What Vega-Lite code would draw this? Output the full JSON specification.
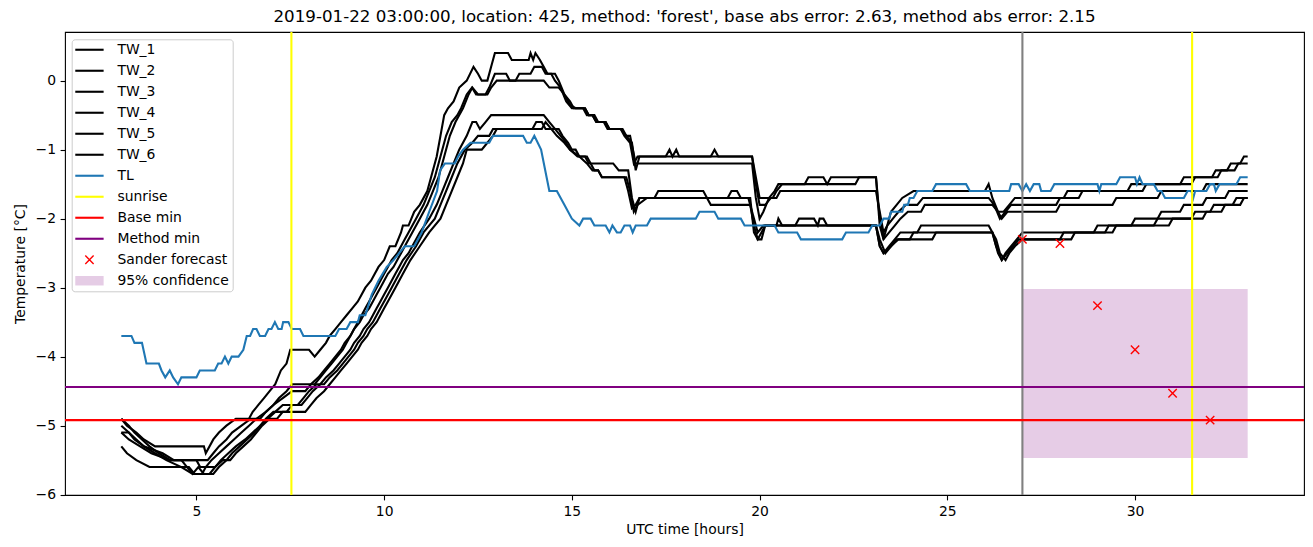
{
"$schema": "https://vega.github.io/schema/vega-lite/v6.json",
"width": 1239, "height": 463,
"autosize": "none",
"padding": {"left": 65, "top": 32, "right": 9, "bottom": 52},
"background": "white",
"title": {"text": "2019-01-22 03:00:00, location: 425, method: 'forest', base abs error: 2.63, method abs error: 2.15", "fontSize": 16.7, "font": "DejaVu Sans", "fontWeight": "normal", "color": "black", "anchor": "middle", "offset": 5},
"config": {
  "view": {"stroke": "black", "strokeWidth": 1.1},
  "font": "DejaVu Sans",
  "axis": {"domain": false, "grid": false, "tickColor": "black", "tickWidth": 1.1, "tickSize": 4.9, "labelFont": "DejaVu Sans", "labelFontSize": 13.9, "labelColor": "black", "labelPadding": 4.5, "titleFont": "DejaVu Sans", "titleFontSize": 13.9, "titleFontWeight": "normal", "titleColor": "black"}
},
"datasets": {
"series": [
{"s":"TW_1","x":3.0,"y":-4.9},{"s":"TW_1","x":3.15,"y":-5.0},{"s":"TW_1","x":3.4,"y":-5.1},{"s":"TW_1","x":3.6,"y":-5.2},{"s":"TW_1","x":3.9,"y":-5.3},{"s":"TW_1","x":5.2,"y":-5.3},{"s":"TW_1","x":5.25,"y":-5.4},{"s":"TW_1","x":5.45,"y":-5.2},{"s":"TW_1","x":5.6,"y":-5.1},{"s":"TW_1","x":5.8,"y":-5.0},{"s":"TW_1","x":6.05,"y":-4.9},{"s":"TW_1","x":6.4,"y":-4.9},{"s":"TW_1","x":6.5,"y":-4.8},{"s":"TW_1","x":6.65,"y":-4.7},{"s":"TW_1","x":6.8,"y":-4.6},{"s":"TW_1","x":6.95,"y":-4.5},{"s":"TW_1","x":7.1,"y":-4.4},{"s":"TW_1","x":7.25,"y":-4.2},{"s":"TW_1","x":7.4,"y":-4.1},{"s":"TW_1","x":7.5,"y":-3.9},{"s":"TW_1","x":8.0,"y":-3.9},{"s":"TW_1","x":8.15,"y":-4.0},{"s":"TW_1","x":8.3,"y":-3.9},{"s":"TW_1","x":8.45,"y":-3.8},{"s":"TW_1","x":8.55,"y":-3.7},{"s":"TW_1","x":8.7,"y":-3.6},{"s":"TW_1","x":8.85,"y":-3.5},{"s":"TW_1","x":9.0,"y":-3.4},{"s":"TW_1","x":9.15,"y":-3.3},{"s":"TW_1","x":9.3,"y":-3.2},{"s":"TW_1","x":9.5,"y":-3.0},{"s":"TW_1","x":9.65,"y":-2.9},{"s":"TW_1","x":9.85,"y":-2.7},{"s":"TW_1","x":10.0,"y":-2.6},{"s":"TW_1","x":10.15,"y":-2.4},{"s":"TW_1","x":10.3,"y":-2.4},{"s":"TW_1","x":10.45,"y":-2.2},{"s":"TW_1","x":10.5,"y":-2.1},{"s":"TW_1","x":10.65,"y":-2.1},{"s":"TW_1","x":10.8,"y":-1.9},{"s":"TW_1","x":10.95,"y":-1.8},{"s":"TW_1","x":11.15,"y":-1.6},{"s":"TW_1","x":11.25,"y":-1.4},{"s":"TW_1","x":11.4,"y":-1.1},{"s":"TW_1","x":11.5,"y":-0.8},{"s":"TW_1","x":11.6,"y":-0.5},{"s":"TW_1","x":11.7,"y":-0.4},{"s":"TW_1","x":11.85,"y":-0.3},{"s":"TW_1","x":12.0,"y":-0.1},{"s":"TW_1","x":12.2,"y":0.0},{"s":"TW_1","x":12.38,"y":0.2},{"s":"TW_1","x":12.5,"y":0.1},{"s":"TW_1","x":12.6,"y":0.0},{"s":"TW_1","x":12.75,"y":0.0},{"s":"TW_1","x":12.85,"y":0.2},{"s":"TW_1","x":12.95,"y":0.4},{"s":"TW_1","x":13.3,"y":0.4},{"s":"TW_1","x":13.4,"y":0.3},{"s":"TW_1","x":13.85,"y":0.3},{"s":"TW_1","x":13.9,"y":0.4},{"s":"TW_1","x":13.97,"y":0.3},{"s":"TW_1","x":14.03,"y":0.4},{"s":"TW_1","x":14.15,"y":0.3},{"s":"TW_1","x":14.25,"y":0.2},{"s":"TW_1","x":14.35,"y":0.1},{"s":"TW_1","x":14.55,"y":0.1},{"s":"TW_1","x":14.65,"y":0.0},{"s":"TW_1","x":14.8,"y":-0.2},{"s":"TW_1","x":14.95,"y":-0.35},{"s":"TW_1","x":15.1,"y":-0.4},{"s":"TW_1","x":15.35,"y":-0.4},{"s":"TW_1","x":15.45,"y":-0.5},{"s":"TW_1","x":15.55,"y":-0.5},{"s":"TW_1","x":15.65,"y":-0.6},{"s":"TW_1","x":15.9,"y":-0.6},{"s":"TW_1","x":16.0,"y":-0.7},{"s":"TW_1","x":16.3,"y":-0.7},{"s":"TW_1","x":16.45,"y":-0.8},{"s":"TW_1","x":16.6,"y":-0.9},{"s":"TW_1","x":16.7,"y":-1.3},{"s":"TW_1","x":16.8,"y":-1.1},{"s":"TW_1","x":17.5,"y":-1.1},{"s":"TW_1","x":17.6,"y":-1.0},{"s":"TW_1","x":17.68,"y":-1.1},{"s":"TW_1","x":17.78,"y":-1.0},{"s":"TW_1","x":17.86,"y":-1.1},{"s":"TW_1","x":18.7,"y":-1.1},{"s":"TW_1","x":18.8,"y":-1.0},{"s":"TW_1","x":18.9,"y":-1.1},{"s":"TW_1","x":19.8,"y":-1.1},{"s":"TW_1","x":19.9,"y":-1.4},{"s":"TW_1","x":20.0,"y":-1.7},{"s":"TW_1","x":20.35,"y":-1.7},{"s":"TW_1","x":20.45,"y":-1.6},{"s":"TW_1","x":20.6,"y":-1.5},{"s":"TW_1","x":21.2,"y":-1.5},{"s":"TW_1","x":21.3,"y":-1.4},{"s":"TW_1","x":21.7,"y":-1.4},{"s":"TW_1","x":21.8,"y":-1.5},{"s":"TW_1","x":21.9,"y":-1.4},{"s":"TW_1","x":23.1,"y":-1.4},{"s":"TW_1","x":23.2,"y":-2.0},{"s":"TW_1","x":23.3,"y":-2.3},{"s":"TW_1","x":23.4,"y":-2.1},{"s":"TW_1","x":23.5,"y":-1.9},{"s":"TW_1","x":23.65,"y":-1.8},{"s":"TW_1","x":23.8,"y":-1.7},{"s":"TW_1","x":24.1,"y":-1.6},{"s":"TW_1","x":26.0,"y":-1.6},{"s":"TW_1","x":26.1,"y":-1.5},{"s":"TW_1","x":26.2,"y":-1.7},{"s":"TW_1","x":26.35,"y":-1.9},{"s":"TW_1","x":26.5,"y":-1.9},{"s":"TW_1","x":26.65,"y":-1.8},{"s":"TW_1","x":26.8,"y":-1.7},{"s":"TW_1","x":28.1,"y":-1.7},{"s":"TW_1","x":28.2,"y":-1.6},{"s":"TW_1","x":29.8,"y":-1.6},{"s":"TW_1","x":29.9,"y":-1.5},{"s":"TW_1","x":31.2,"y":-1.5},{"s":"TW_1","x":31.3,"y":-1.4},{"s":"TW_1","x":32.05,"y":-1.4},{"s":"TW_1","x":32.15,"y":-1.3},{"s":"TW_1","x":32.45,"y":-1.3},{"s":"TW_1","x":32.55,"y":-1.2},{"s":"TW_1","x":32.8,"y":-1.2},{"s":"TW_1","x":32.9,"y":-1.1},{"s":"TW_1","x":33.0,"y":-1.1},

{"s":"TW_2","x":3.0,"y":-4.9},{"s":"TW_2","x":3.2,"y":-5.0},{"s":"TW_2","x":3.35,"y":-5.1},{"s":"TW_2","x":3.55,"y":-5.2},{"s":"TW_2","x":3.75,"y":-5.3},{"s":"TW_2","x":4.0,"y":-5.4},{"s":"TW_2","x":4.3,"y":-5.5},{"s":"TW_2","x":5.3,"y":-5.5},{"s":"TW_2","x":5.45,"y":-5.4},{"s":"TW_2","x":5.6,"y":-5.3},{"s":"TW_2","x":5.8,"y":-5.2},{"s":"TW_2","x":5.95,"y":-5.1},{"s":"TW_2","x":6.2,"y":-5.0},{"s":"TW_2","x":6.45,"y":-4.9},{"s":"TW_2","x":6.7,"y":-4.9},{"s":"TW_2","x":6.85,"y":-4.8},{"s":"TW_2","x":7.05,"y":-4.7},{"s":"TW_2","x":7.2,"y":-4.6},{"s":"TW_2","x":7.4,"y":-4.5},{"s":"TW_2","x":7.55,"y":-4.4},{"s":"TW_2","x":8.15,"y":-4.4},{"s":"TW_2","x":8.3,"y":-4.3},{"s":"TW_2","x":8.45,"y":-4.2},{"s":"TW_2","x":8.6,"y":-4.1},{"s":"TW_2","x":8.75,"y":-4.0},{"s":"TW_2","x":8.9,"y":-3.9},{"s":"TW_2","x":9.0,"y":-3.8},{"s":"TW_2","x":9.1,"y":-3.7},{"s":"TW_2","x":9.2,"y":-3.6},{"s":"TW_2","x":9.3,"y":-3.5},{"s":"TW_2","x":9.4,"y":-3.4},{"s":"TW_2","x":9.5,"y":-3.3},{"s":"TW_2","x":9.6,"y":-3.2},{"s":"TW_2","x":9.7,"y":-3.1},{"s":"TW_2","x":9.8,"y":-3.0},{"s":"TW_2","x":9.9,"y":-2.9},{"s":"TW_2","x":10.0,"y":-2.8},{"s":"TW_2","x":10.1,"y":-2.7},{"s":"TW_2","x":10.2,"y":-2.6},{"s":"TW_2","x":10.35,"y":-2.5},{"s":"TW_2","x":10.45,"y":-2.4},{"s":"TW_2","x":10.55,"y":-2.3},{"s":"TW_2","x":10.65,"y":-2.2},{"s":"TW_2","x":10.85,"y":-2.0},{"s":"TW_2","x":10.95,"y":-1.9},{"s":"TW_2","x":11.05,"y":-1.8},{"s":"TW_2","x":11.2,"y":-1.6},{"s":"TW_2","x":11.35,"y":-1.4},{"s":"TW_2","x":11.5,"y":-1.1},{"s":"TW_2","x":11.65,"y":-0.8},{"s":"TW_2","x":11.8,"y":-0.6},{"s":"TW_2","x":11.95,"y":-0.5},{"s":"TW_2","x":12.05,"y":-0.4},{"s":"TW_2","x":12.2,"y":-0.2},{"s":"TW_2","x":12.34,"y":-0.1},{"s":"TW_2","x":12.45,"y":-0.2},{"s":"TW_2","x":12.7,"y":-0.2},{"s":"TW_2","x":12.8,"y":-0.1},{"s":"TW_2","x":12.95,"y":0.1},{"s":"TW_2","x":13.25,"y":0.1},{"s":"TW_2","x":13.35,"y":0.0},{"s":"TW_2","x":13.5,"y":0.0},{"s":"TW_2","x":13.6,"y":0.1},{"s":"TW_2","x":13.9,"y":0.1},{"s":"TW_2","x":14.0,"y":0.2},{"s":"TW_2","x":14.2,"y":0.2},{"s":"TW_2","x":14.3,"y":0.1},{"s":"TW_2","x":14.45,"y":0.1},{"s":"TW_2","x":14.55,"y":0.0},{"s":"TW_2","x":14.7,"y":-0.1},{"s":"TW_2","x":14.85,"y":-0.3},{"s":"TW_2","x":15.0,"y":-0.4},{"s":"TW_2","x":15.3,"y":-0.4},{"s":"TW_2","x":15.4,"y":-0.5},{"s":"TW_2","x":15.55,"y":-0.5},{"s":"TW_2","x":15.65,"y":-0.6},{"s":"TW_2","x":15.85,"y":-0.6},{"s":"TW_2","x":15.95,"y":-0.7},{"s":"TW_2","x":16.3,"y":-0.7},{"s":"TW_2","x":16.4,"y":-0.8},{"s":"TW_2","x":16.55,"y":-0.9},{"s":"TW_2","x":16.65,"y":-1.2},{"s":"TW_2","x":16.75,"y":-1.1},{"s":"TW_2","x":19.8,"y":-1.1},{"s":"TW_2","x":19.9,"y":-1.5},{"s":"TW_2","x":20.0,"y":-1.8},{"s":"TW_2","x":20.15,"y":-1.8},{"s":"TW_2","x":20.3,"y":-1.7},{"s":"TW_2","x":20.45,"y":-1.7},{"s":"TW_2","x":20.55,"y":-1.6},{"s":"TW_2","x":23.1,"y":-1.6},{"s":"TW_2","x":23.2,"y":-1.9},{"s":"TW_2","x":23.3,"y":-2.2},{"s":"TW_2","x":23.4,"y":-2.1},{"s":"TW_2","x":23.55,"y":-2.0},{"s":"TW_2","x":23.7,"y":-1.9},{"s":"TW_2","x":23.9,"y":-1.8},{"s":"TW_2","x":24.2,"y":-1.8},{"s":"TW_2","x":24.35,"y":-1.7},{"s":"TW_2","x":26.1,"y":-1.7},{"s":"TW_2","x":26.25,"y":-1.8},{"s":"TW_2","x":26.4,"y":-2.0},{"s":"TW_2","x":26.55,"y":-1.9},{"s":"TW_2","x":26.7,"y":-1.8},{"s":"TW_2","x":27.9,"y":-1.8},{"s":"TW_2","x":28.0,"y":-1.7},{"s":"TW_2","x":28.5,"y":-1.7},{"s":"TW_2","x":28.6,"y":-1.6},{"s":"TW_2","x":30.2,"y":-1.6},{"s":"TW_2","x":30.3,"y":-1.5},{"s":"TW_2","x":31.5,"y":-1.5},{"s":"TW_2","x":31.6,"y":-1.4},{"s":"TW_2","x":32.2,"y":-1.4},{"s":"TW_2","x":32.3,"y":-1.3},{"s":"TW_2","x":32.65,"y":-1.3},{"s":"TW_2","x":32.75,"y":-1.2},{"s":"TW_2","x":33.0,"y":-1.2},

{"s":"TW_3","x":3.0,"y":-5.0},{"s":"TW_3","x":3.2,"y":-5.1},{"s":"TW_3","x":3.4,"y":-5.2},{"s":"TW_3","x":3.6,"y":-5.3},{"s":"TW_3","x":3.9,"y":-5.4},{"s":"TW_3","x":4.2,"y":-5.5},{"s":"TW_3","x":4.6,"y":-5.6},{"s":"TW_3","x":4.9,"y":-5.7},{"s":"TW_3","x":5.15,"y":-5.7},{"s":"TW_3","x":5.25,"y":-5.6},{"s":"TW_3","x":5.4,"y":-5.5},{"s":"TW_3","x":5.6,"y":-5.4},{"s":"TW_3","x":5.8,"y":-5.3},{"s":"TW_3","x":6.0,"y":-5.2},{"s":"TW_3","x":6.2,"y":-5.1},{"s":"TW_3","x":6.4,"y":-5.0},{"s":"TW_3","x":6.6,"y":-4.9},{"s":"TW_3","x":6.85,"y":-4.8},{"s":"TW_3","x":7.05,"y":-4.7},{"s":"TW_3","x":7.3,"y":-4.6},{"s":"TW_3","x":7.55,"y":-4.5},{"s":"TW_3","x":7.9,"y":-4.5},{"s":"TW_3","x":8.05,"y":-4.4},{"s":"TW_3","x":8.25,"y":-4.3},{"s":"TW_3","x":8.4,"y":-4.2},{"s":"TW_3","x":8.55,"y":-4.1},{"s":"TW_3","x":8.7,"y":-4.0},{"s":"TW_3","x":8.85,"y":-3.9},{"s":"TW_3","x":8.95,"y":-3.8},{"s":"TW_3","x":9.1,"y":-3.7},{"s":"TW_3","x":9.2,"y":-3.6},{"s":"TW_3","x":9.35,"y":-3.5},{"s":"TW_3","x":9.45,"y":-3.4},{"s":"TW_3","x":9.6,"y":-3.3},{"s":"TW_3","x":9.7,"y":-3.2},{"s":"TW_3","x":9.8,"y":-3.1},{"s":"TW_3","x":9.9,"y":-3.0},{"s":"TW_3","x":10.0,"y":-2.9},{"s":"TW_3","x":10.1,"y":-2.8},{"s":"TW_3","x":10.25,"y":-2.7},{"s":"TW_3","x":10.35,"y":-2.6},{"s":"TW_3","x":10.45,"y":-2.5},{"s":"TW_3","x":10.55,"y":-2.4},{"s":"TW_3","x":10.75,"y":-2.2},{"s":"TW_3","x":10.95,"y":-2.0},{"s":"TW_3","x":11.05,"y":-1.9},{"s":"TW_3","x":11.15,"y":-1.8},{"s":"TW_3","x":11.3,"y":-1.6},{"s":"TW_3","x":11.45,"y":-1.4},{"s":"TW_3","x":11.6,"y":-1.1},{"s":"TW_3","x":11.75,"y":-0.8},{"s":"TW_3","x":11.9,"y":-0.6},{"s":"TW_3","x":12.1,"y":-0.4},{"s":"TW_3","x":12.25,"y":-0.2},{"s":"TW_3","x":12.35,"y":-0.1},{"s":"TW_3","x":12.5,"y":-0.2},{"s":"TW_3","x":12.75,"y":-0.2},{"s":"TW_3","x":12.85,"y":-0.1},{"s":"TW_3","x":13.0,"y":0.0},{"s":"TW_3","x":14.25,"y":0.0},{"s":"TW_3","x":14.4,"y":-0.1},{"s":"TW_3","x":14.65,"y":-0.1},{"s":"TW_3","x":14.8,"y":-0.2},{"s":"TW_3","x":14.95,"y":-0.3},{"s":"TW_3","x":15.05,"y":-0.4},{"s":"TW_3","x":15.35,"y":-0.4},{"s":"TW_3","x":15.45,"y":-0.5},{"s":"TW_3","x":15.6,"y":-0.5},{"s":"TW_3","x":15.7,"y":-0.6},{"s":"TW_3","x":15.9,"y":-0.6},{"s":"TW_3","x":16.0,"y":-0.7},{"s":"TW_3","x":16.35,"y":-0.7},{"s":"TW_3","x":16.45,"y":-0.8},{"s":"TW_3","x":16.55,"y":-0.8},{"s":"TW_3","x":16.7,"y":-1.2},{"s":"TW_3","x":19.8,"y":-1.2},{"s":"TW_3","x":19.9,"y":-1.7},{"s":"TW_3","x":20.0,"y":-2.0},{"s":"TW_3","x":20.1,"y":-1.9},{"s":"TW_3","x":20.25,"y":-1.7},{"s":"TW_3","x":20.4,"y":-1.6},{"s":"TW_3","x":20.5,"y":-1.5},{"s":"TW_3","x":22.55,"y":-1.5},{"s":"TW_3","x":22.65,"y":-1.4},{"s":"TW_3","x":23.1,"y":-1.4},{"s":"TW_3","x":23.2,"y":-2.1},{"s":"TW_3","x":23.3,"y":-2.3},{"s":"TW_3","x":23.45,"y":-2.2},{"s":"TW_3","x":23.6,"y":-2.1},{"s":"TW_3","x":23.75,"y":-2.0},{"s":"TW_3","x":23.95,"y":-1.9},{"s":"TW_3","x":24.3,"y":-1.9},{"s":"TW_3","x":24.4,"y":-1.8},{"s":"TW_3","x":26.2,"y":-1.8},{"s":"TW_3","x":26.35,"y":-1.9},{"s":"TW_3","x":26.45,"y":-2.0},{"s":"TW_3","x":26.6,"y":-1.9},{"s":"TW_3","x":27.9,"y":-1.9},{"s":"TW_3","x":28.0,"y":-1.8},{"s":"TW_3","x":29.4,"y":-1.8},{"s":"TW_3","x":29.5,"y":-1.7},{"s":"TW_3","x":30.6,"y":-1.7},{"s":"TW_3","x":30.7,"y":-1.6},{"s":"TW_3","x":31.8,"y":-1.6},{"s":"TW_3","x":31.9,"y":-1.5},{"s":"TW_3","x":33.0,"y":-1.5},

{"s":"TW_4","x":3.0,"y":-5.1},{"s":"TW_4","x":3.2,"y":-5.2},{"s":"TW_4","x":3.5,"y":-5.3},{"s":"TW_4","x":3.8,"y":-5.4},{"s":"TW_4","x":4.3,"y":-5.5},{"s":"TW_4","x":4.6,"y":-5.5},{"s":"TW_4","x":4.75,"y":-5.6},{"s":"TW_4","x":4.9,"y":-5.7},{"s":"TW_4","x":5.05,"y":-5.6},{"s":"TW_4","x":5.2,"y":-5.7},{"s":"TW_4","x":5.45,"y":-5.7},{"s":"TW_4","x":5.6,"y":-5.6},{"s":"TW_4","x":5.8,"y":-5.5},{"s":"TW_4","x":5.95,"y":-5.4},{"s":"TW_4","x":6.15,"y":-5.3},{"s":"TW_4","x":6.35,"y":-5.2},{"s":"TW_4","x":6.55,"y":-5.1},{"s":"TW_4","x":6.7,"y":-5.0},{"s":"TW_4","x":6.85,"y":-4.9},{"s":"TW_4","x":7.05,"y":-4.8},{"s":"TW_4","x":7.4,"y":-4.8},{"s":"TW_4","x":7.55,"y":-4.7},{"s":"TW_4","x":7.8,"y":-4.7},{"s":"TW_4","x":7.95,"y":-4.6},{"s":"TW_4","x":8.1,"y":-4.5},{"s":"TW_4","x":8.3,"y":-4.4},{"s":"TW_4","x":8.45,"y":-4.3},{"s":"TW_4","x":8.65,"y":-4.2},{"s":"TW_4","x":8.8,"y":-4.1},{"s":"TW_4","x":8.95,"y":-4.0},{"s":"TW_4","x":9.1,"y":-3.9},{"s":"TW_4","x":9.2,"y":-3.8},{"s":"TW_4","x":9.35,"y":-3.7},{"s":"TW_4","x":9.45,"y":-3.6},{"s":"TW_4","x":9.6,"y":-3.5},{"s":"TW_4","x":9.7,"y":-3.4},{"s":"TW_4","x":9.8,"y":-3.3},{"s":"TW_4","x":9.9,"y":-3.2},{"s":"TW_4","x":10.0,"y":-3.1},{"s":"TW_4","x":10.1,"y":-3.0},{"s":"TW_4","x":10.2,"y":-2.9},{"s":"TW_4","x":10.3,"y":-2.8},{"s":"TW_4","x":10.4,"y":-2.7},{"s":"TW_4","x":10.5,"y":-2.6},{"s":"TW_4","x":10.65,"y":-2.5},{"s":"TW_4","x":10.75,"y":-2.4},{"s":"TW_4","x":10.95,"y":-2.2},{"s":"TW_4","x":11.2,"y":-2.0},{"s":"TW_4","x":11.4,"y":-1.8},{"s":"TW_4","x":11.55,"y":-1.6},{"s":"TW_4","x":11.7,"y":-1.4},{"s":"TW_4","x":11.85,"y":-1.2},{"s":"TW_4","x":12.0,"y":-1.0},{"s":"TW_4","x":12.2,"y":-0.8},{"s":"TW_4","x":12.35,"y":-0.6},{"s":"TW_4","x":12.45,"y":-0.6},{"s":"TW_4","x":12.55,"y":-0.7},{"s":"TW_4","x":12.7,"y":-0.6},{"s":"TW_4","x":12.85,"y":-0.5},{"s":"TW_4","x":14.25,"y":-0.5},{"s":"TW_4","x":14.4,"y":-0.6},{"s":"TW_4","x":14.55,"y":-0.7},{"s":"TW_4","x":14.7,"y":-0.8},{"s":"TW_4","x":14.85,"y":-0.9},{"s":"TW_4","x":14.95,"y":-1.0},{"s":"TW_4","x":15.15,"y":-1.1},{"s":"TW_4","x":15.35,"y":-1.1},{"s":"TW_4","x":15.45,"y":-1.2},{"s":"TW_4","x":16.1,"y":-1.2},{"s":"TW_4","x":16.25,"y":-1.3},{"s":"TW_4","x":16.5,"y":-1.3},{"s":"TW_4","x":16.6,"y":-1.7},{"s":"TW_4","x":16.7,"y":-1.9},{"s":"TW_4","x":16.8,"y":-1.7},{"s":"TW_4","x":17.2,"y":-1.7},{"s":"TW_4","x":17.3,"y":-1.6},{"s":"TW_4","x":18.5,"y":-1.6},{"s":"TW_4","x":18.6,"y":-1.7},{"s":"TW_4","x":19.15,"y":-1.7},{"s":"TW_4","x":19.25,"y":-1.6},{"s":"TW_4","x":19.4,"y":-1.6},{"s":"TW_4","x":19.5,"y":-1.7},{"s":"TW_4","x":19.75,"y":-1.7},{"s":"TW_4","x":19.85,"y":-2.2},{"s":"TW_4","x":19.95,"y":-2.3},{"s":"TW_4","x":20.05,"y":-2.2},{"s":"TW_4","x":20.15,"y":-2.1},{"s":"TW_4","x":20.45,"y":-2.1},{"s":"TW_4","x":20.5,"y":-2.0},{"s":"TW_4","x":20.6,"y":-2.1},{"s":"TW_4","x":23.1,"y":-2.1},{"s":"TW_4","x":23.2,"y":-2.4},{"s":"TW_4","x":23.3,"y":-2.5},{"s":"TW_4","x":23.45,"y":-2.4},{"s":"TW_4","x":23.6,"y":-2.3},{"s":"TW_4","x":23.75,"y":-2.2},{"s":"TW_4","x":24.2,"y":-2.2},{"s":"TW_4","x":24.3,"y":-2.1},{"s":"TW_4","x":26.1,"y":-2.1},{"s":"TW_4","x":26.2,"y":-2.2},{"s":"TW_4","x":26.35,"y":-2.5},{"s":"TW_4","x":26.45,"y":-2.6},{"s":"TW_4","x":26.55,"y":-2.5},{"s":"TW_4","x":26.7,"y":-2.4},{"s":"TW_4","x":26.85,"y":-2.3},{"s":"TW_4","x":27.0,"y":-2.2},{"s":"TW_4","x":28.9,"y":-2.2},{"s":"TW_4","x":29.0,"y":-2.1},{"s":"TW_4","x":29.9,"y":-2.1},{"s":"TW_4","x":30.0,"y":-2.0},{"s":"TW_4","x":30.6,"y":-2.0},{"s":"TW_4","x":30.7,"y":-1.9},{"s":"TW_4","x":31.2,"y":-1.9},{"s":"TW_4","x":31.3,"y":-1.8},{"s":"TW_4","x":31.8,"y":-1.8},{"s":"TW_4","x":31.9,"y":-1.7},{"s":"TW_4","x":32.4,"y":-1.7},{"s":"TW_4","x":32.5,"y":-1.6},{"s":"TW_4","x":33.0,"y":-1.6},

{"s":"TW_5","x":3.0,"y":-5.1},{"s":"TW_5","x":3.2,"y":-5.1},{"s":"TW_5","x":3.35,"y":-5.2},{"s":"TW_5","x":3.6,"y":-5.3},{"s":"TW_5","x":4.1,"y":-5.4},{"s":"TW_5","x":4.4,"y":-5.5},{"s":"TW_5","x":5.0,"y":-5.5},{"s":"TW_5","x":5.1,"y":-5.6},{"s":"TW_5","x":5.5,"y":-5.6},{"s":"TW_5","x":5.65,"y":-5.5},{"s":"TW_5","x":5.85,"y":-5.4},{"s":"TW_5","x":6.05,"y":-5.3},{"s":"TW_5","x":6.3,"y":-5.2},{"s":"TW_5","x":6.5,"y":-5.1},{"s":"TW_5","x":6.7,"y":-5.0},{"s":"TW_5","x":6.9,"y":-4.9},{"s":"TW_5","x":7.1,"y":-4.8},{"s":"TW_5","x":7.3,"y":-4.7},{"s":"TW_5","x":7.7,"y":-4.7},{"s":"TW_5","x":7.85,"y":-4.6},{"s":"TW_5","x":8.0,"y":-4.5},{"s":"TW_5","x":8.2,"y":-4.4},{"s":"TW_5","x":8.4,"y":-4.4},{"s":"TW_5","x":8.55,"y":-4.3},{"s":"TW_5","x":8.75,"y":-4.2},{"s":"TW_5","x":8.9,"y":-4.1},{"s":"TW_5","x":9.05,"y":-4.0},{"s":"TW_5","x":9.2,"y":-3.9},{"s":"TW_5","x":9.3,"y":-3.8},{"s":"TW_5","x":9.45,"y":-3.7},{"s":"TW_5","x":9.55,"y":-3.6},{"s":"TW_5","x":9.7,"y":-3.5},{"s":"TW_5","x":9.8,"y":-3.4},{"s":"TW_5","x":9.9,"y":-3.3},{"s":"TW_5","x":10.0,"y":-3.2},{"s":"TW_5","x":10.2,"y":-3.0},{"s":"TW_5","x":10.4,"y":-2.8},{"s":"TW_5","x":10.6,"y":-2.6},{"s":"TW_5","x":10.85,"y":-2.4},{"s":"TW_5","x":11.05,"y":-2.2},{"s":"TW_5","x":11.35,"y":-2.0},{"s":"TW_5","x":11.5,"y":-1.8},{"s":"TW_5","x":11.65,"y":-1.6},{"s":"TW_5","x":11.8,"y":-1.4},{"s":"TW_5","x":11.95,"y":-1.2},{"s":"TW_5","x":12.15,"y":-1.0},{"s":"TW_5","x":12.35,"y":-0.9},{"s":"TW_5","x":12.5,"y":-0.8},{"s":"TW_5","x":12.8,"y":-0.8},{"s":"TW_5","x":12.9,"y":-0.7},{"s":"TW_5","x":13.95,"y":-0.7},{"s":"TW_5","x":14.05,"y":-0.6},{"s":"TW_5","x":14.2,"y":-0.6},{"s":"TW_5","x":14.3,"y":-0.7},{"s":"TW_5","x":14.65,"y":-0.7},{"s":"TW_5","x":14.75,"y":-0.8},{"s":"TW_5","x":14.9,"y":-0.9},{"s":"TW_5","x":15.0,"y":-1.0},{"s":"TW_5","x":15.1,"y":-1.0},{"s":"TW_5","x":15.2,"y":-1.1},{"s":"TW_5","x":15.4,"y":-1.1},{"s":"TW_5","x":15.5,"y":-1.2},{"s":"TW_5","x":15.6,"y":-1.3},{"s":"TW_5","x":15.7,"y":-1.3},{"s":"TW_5","x":15.8,"y":-1.4},{"s":"TW_5","x":16.4,"y":-1.4},{"s":"TW_5","x":16.5,"y":-1.6},{"s":"TW_5","x":16.6,"y":-1.85},{"s":"TW_5","x":16.7,"y":-1.8},{"s":"TW_5","x":16.8,"y":-1.7},{"s":"TW_5","x":18.6,"y":-1.7},{"s":"TW_5","x":18.7,"y":-1.8},{"s":"TW_5","x":19.75,"y":-1.8},{"s":"TW_5","x":19.85,"y":-2.1},{"s":"TW_5","x":19.95,"y":-2.3},{"s":"TW_5","x":20.05,"y":-2.3},{"s":"TW_5","x":20.15,"y":-2.1},{"s":"TW_5","x":20.95,"y":-2.1},{"s":"TW_5","x":21.05,"y":-2.0},{"s":"TW_5","x":21.45,"y":-2.0},{"s":"TW_5","x":21.55,"y":-2.1},{"s":"TW_5","x":21.6,"y":-2.0},{"s":"TW_5","x":21.7,"y":-2.0},{"s":"TW_5","x":21.8,"y":-2.1},{"s":"TW_5","x":23.1,"y":-2.1},{"s":"TW_5","x":23.2,"y":-2.4},{"s":"TW_5","x":23.3,"y":-2.5},{"s":"TW_5","x":23.5,"y":-2.4},{"s":"TW_5","x":23.65,"y":-2.3},{"s":"TW_5","x":24.6,"y":-2.3},{"s":"TW_5","x":24.7,"y":-2.2},{"s":"TW_5","x":26.2,"y":-2.2},{"s":"TW_5","x":26.3,"y":-2.4},{"s":"TW_5","x":26.45,"y":-2.6},{"s":"TW_5","x":26.6,"y":-2.5},{"s":"TW_5","x":26.75,"y":-2.4},{"s":"TW_5","x":26.9,"y":-2.3},{"s":"TW_5","x":28.0,"y":-2.3},{"s":"TW_5","x":28.1,"y":-2.2},{"s":"TW_5","x":29.4,"y":-2.2},{"s":"TW_5","x":29.5,"y":-2.1},{"s":"TW_5","x":30.5,"y":-2.1},{"s":"TW_5","x":30.6,"y":-2.0},{"s":"TW_5","x":31.5,"y":-2.0},{"s":"TW_5","x":31.6,"y":-1.9},{"s":"TW_5","x":32.0,"y":-1.9},{"s":"TW_5","x":32.1,"y":-1.8},{"s":"TW_5","x":32.6,"y":-1.8},{"s":"TW_5","x":32.7,"y":-1.7},{"s":"TW_5","x":33.0,"y":-1.7},

{"s":"TW_6","x":3.0,"y":-5.3},{"s":"TW_6","x":3.15,"y":-5.4},{"s":"TW_6","x":3.4,"y":-5.5},{"s":"TW_6","x":3.75,"y":-5.6},{"s":"TW_6","x":4.8,"y":-5.6},{"s":"TW_6","x":4.95,"y":-5.7},{"s":"TW_6","x":5.35,"y":-5.7},{"s":"TW_6","x":5.5,"y":-5.6},{"s":"TW_6","x":5.7,"y":-5.5},{"s":"TW_6","x":5.9,"y":-5.5},{"s":"TW_6","x":6.05,"y":-5.4},{"s":"TW_6","x":6.25,"y":-5.3},{"s":"TW_6","x":6.45,"y":-5.2},{"s":"TW_6","x":6.6,"y":-5.1},{"s":"TW_6","x":6.75,"y":-5.0},{"s":"TW_6","x":6.95,"y":-4.9},{"s":"TW_6","x":7.15,"y":-4.9},{"s":"TW_6","x":7.3,"y":-4.8},{"s":"TW_6","x":7.9,"y":-4.8},{"s":"TW_6","x":8.05,"y":-4.7},{"s":"TW_6","x":8.2,"y":-4.6},{"s":"TW_6","x":8.4,"y":-4.5},{"s":"TW_6","x":8.55,"y":-4.4},{"s":"TW_6","x":8.7,"y":-4.3},{"s":"TW_6","x":8.85,"y":-4.2},{"s":"TW_6","x":9.0,"y":-4.1},{"s":"TW_6","x":9.15,"y":-4.0},{"s":"TW_6","x":9.3,"y":-3.9},{"s":"TW_6","x":9.4,"y":-3.8},{"s":"TW_6","x":9.55,"y":-3.7},{"s":"TW_6","x":9.65,"y":-3.6},{"s":"TW_6","x":9.8,"y":-3.5},{"s":"TW_6","x":9.9,"y":-3.4},{"s":"TW_6","x":10.0,"y":-3.3},{"s":"TW_6","x":10.1,"y":-3.2},{"s":"TW_6","x":10.3,"y":-3.0},{"s":"TW_6","x":10.5,"y":-2.8},{"s":"TW_6","x":10.7,"y":-2.6},{"s":"TW_6","x":10.95,"y":-2.4},{"s":"TW_6","x":11.2,"y":-2.2},{"s":"TW_6","x":11.5,"y":-2.0},{"s":"TW_6","x":11.65,"y":-1.8},{"s":"TW_6","x":11.8,"y":-1.6},{"s":"TW_6","x":11.95,"y":-1.4},{"s":"TW_6","x":12.1,"y":-1.2},{"s":"TW_6","x":12.2,"y":-1.0},{"s":"TW_6","x":12.6,"y":-1.0},{"s":"TW_6","x":12.75,"y":-0.9},{"s":"TW_6","x":12.9,"y":-0.8},{"s":"TW_6","x":13.0,"y":-0.7},{"s":"TW_6","x":14.2,"y":-0.7},{"s":"TW_6","x":14.3,"y":-0.6},{"s":"TW_6","x":14.45,"y":-0.7},{"s":"TW_6","x":14.6,"y":-0.8},{"s":"TW_6","x":14.8,"y":-0.9},{"s":"TW_6","x":14.95,"y":-1.0},{"s":"TW_6","x":15.2,"y":-1.1},{"s":"TW_6","x":15.4,"y":-1.2},{"s":"TW_6","x":15.55,"y":-1.3},{"s":"TW_6","x":15.7,"y":-1.3},{"s":"TW_6","x":15.8,"y":-1.4},{"s":"TW_6","x":16.45,"y":-1.4},{"s":"TW_6","x":16.55,"y":-1.6},{"s":"TW_6","x":16.65,"y":-1.9},{"s":"TW_6","x":16.75,"y":-1.8},{"s":"TW_6","x":17.0,"y":-1.7},{"s":"TW_6","x":19.7,"y":-1.7},{"s":"TW_6","x":19.85,"y":-2.0},{"s":"TW_6","x":19.95,"y":-2.2},{"s":"TW_6","x":20.1,"y":-2.1},{"s":"TW_6","x":23.1,"y":-2.1},{"s":"TW_6","x":23.2,"y":-2.3},{"s":"TW_6","x":23.35,"y":-2.5},{"s":"TW_6","x":23.5,"y":-2.4},{"s":"TW_6","x":23.7,"y":-2.3},{"s":"TW_6","x":24.0,"y":-2.3},{"s":"TW_6","x":24.1,"y":-2.2},{"s":"TW_6","x":26.2,"y":-2.2},{"s":"TW_6","x":26.3,"y":-2.3},{"s":"TW_6","x":26.4,"y":-2.5},{"s":"TW_6","x":26.55,"y":-2.6},{"s":"TW_6","x":26.65,"y":-2.5},{"s":"TW_6","x":26.8,"y":-2.4},{"s":"TW_6","x":27.0,"y":-2.3},{"s":"TW_6","x":28.3,"y":-2.3},{"s":"TW_6","x":28.4,"y":-2.2},{"s":"TW_6","x":29.2,"y":-2.2},{"s":"TW_6","x":29.3,"y":-2.1},{"s":"TW_6","x":30.9,"y":-2.1},{"s":"TW_6","x":31.0,"y":-2.0},{"s":"TW_6","x":31.8,"y":-2.0},{"s":"TW_6","x":31.9,"y":-1.9},{"s":"TW_6","x":32.3,"y":-1.9},{"s":"TW_6","x":32.4,"y":-1.8},{"s":"TW_6","x":32.8,"y":-1.8},{"s":"TW_6","x":32.9,"y":-1.7},{"s":"TW_6","x":33.0,"y":-1.7},

{"s":"TL","x":3.0,"y":-3.7},{"s":"TL","x":3.27,"y":-3.7},{"s":"TL","x":3.35,"y":-3.8},{"s":"TL","x":3.55,"y":-3.8},{"s":"TL","x":3.67,"y":-4.1},{"s":"TL","x":4.0,"y":-4.1},{"s":"TL","x":4.07,"y":-4.2},{"s":"TL","x":4.17,"y":-4.3},{"s":"TL","x":4.29,"y":-4.2},{"s":"TL","x":4.38,"y":-4.3},{"s":"TL","x":4.51,"y":-4.4},{"s":"TL","x":4.6,"y":-4.3},{"s":"TL","x":5.0,"y":-4.3},{"s":"TL","x":5.09,"y":-4.2},{"s":"TL","x":5.49,"y":-4.2},{"s":"TL","x":5.58,"y":-4.1},{"s":"TL","x":5.67,"y":-4.1},{"s":"TL","x":5.76,"y":-4.0},{"s":"TL","x":5.85,"y":-4.1},{"s":"TL","x":5.94,"y":-4.0},{"s":"TL","x":6.12,"y":-4.0},{"s":"TL","x":6.25,"y":-3.9},{"s":"TL","x":6.34,"y":-3.7},{"s":"TL","x":6.43,"y":-3.7},{"s":"TL","x":6.51,"y":-3.6},{"s":"TL","x":6.6,"y":-3.6},{"s":"TL","x":6.69,"y":-3.7},{"s":"TL","x":6.83,"y":-3.7},{"s":"TL","x":6.92,"y":-3.6},{"s":"TL","x":7.0,"y":-3.6},{"s":"TL","x":7.09,"y":-3.5},{"s":"TL","x":7.18,"y":-3.6},{"s":"TL","x":7.27,"y":-3.6},{"s":"TL","x":7.31,"y":-3.5},{"s":"TL","x":7.45,"y":-3.5},{"s":"TL","x":7.54,"y":-3.6},{"s":"TL","x":7.76,"y":-3.6},{"s":"TL","x":7.85,"y":-3.7},{"s":"TL","x":8.7,"y":-3.7},{"s":"TL","x":8.8,"y":-3.6},{"s":"TL","x":9.0,"y":-3.6},{"s":"TL","x":9.1,"y":-3.5},{"s":"TL","x":9.3,"y":-3.5},{"s":"TL","x":9.35,"y":-3.4},{"s":"TL","x":9.5,"y":-3.4},{"s":"TL","x":9.67,"y":-3.1},{"s":"TL","x":9.85,"y":-2.9},{"s":"TL","x":10.07,"y":-2.7},{"s":"TL","x":10.25,"y":-2.6},{"s":"TL","x":10.4,"y":-2.5},{"s":"TL","x":10.55,"y":-2.4},{"s":"TL","x":10.8,"y":-2.4},{"s":"TL","x":11.0,"y":-2.2},{"s":"TL","x":11.2,"y":-1.9},{"s":"TL","x":11.41,"y":-1.6},{"s":"TL","x":11.49,"y":-1.3},{"s":"TL","x":11.62,"y":-1.2},{"s":"TL","x":11.88,"y":-1.2},{"s":"TL","x":11.97,"y":-1.1},{"s":"TL","x":12.1,"y":-1.0},{"s":"TL","x":12.3,"y":-0.9},{"s":"TL","x":12.8,"y":-0.9},{"s":"TL","x":12.9,"y":-0.8},{"s":"TL","x":13.7,"y":-0.8},{"s":"TL","x":13.8,"y":-0.9},{"s":"TL","x":13.9,"y":-0.9},{"s":"TL","x":14.0,"y":-0.8},{"s":"TL","x":14.18,"y":-1.0},{"s":"TL","x":14.4,"y":-1.6},{"s":"TL","x":14.6,"y":-1.6},{"s":"TL","x":14.8,"y":-1.8},{"s":"TL","x":15.0,"y":-2.0},{"s":"TL","x":15.2,"y":-2.1},{"s":"TL","x":15.3,"y":-2.0},{"s":"TL","x":15.5,"y":-2.0},{"s":"TL","x":15.6,"y":-2.1},{"s":"TL","x":15.9,"y":-2.1},{"s":"TL","x":16.0,"y":-2.2},{"s":"TL","x":16.08,"y":-2.1},{"s":"TL","x":16.2,"y":-2.2},{"s":"TL","x":16.3,"y":-2.2},{"s":"TL","x":16.4,"y":-2.1},{"s":"TL","x":16.55,"y":-2.1},{"s":"TL","x":16.62,"y":-2.2},{"s":"TL","x":16.7,"y":-2.1},{"s":"TL","x":17.0,"y":-2.1},{"s":"TL","x":17.1,"y":-2.0},{"s":"TL","x":18.3,"y":-2.0},{"s":"TL","x":18.4,"y":-1.9},{"s":"TL","x":18.8,"y":-1.9},{"s":"TL","x":18.9,"y":-2.0},{"s":"TL","x":19.5,"y":-2.0},{"s":"TL","x":19.6,"y":-2.1},{"s":"TL","x":20.4,"y":-2.1},{"s":"TL","x":20.5,"y":-2.2},{"s":"TL","x":21.0,"y":-2.2},{"s":"TL","x":21.1,"y":-2.3},{"s":"TL","x":22.2,"y":-2.3},{"s":"TL","x":22.3,"y":-2.2},{"s":"TL","x":22.9,"y":-2.2},{"s":"TL","x":23.0,"y":-2.1},{"s":"TL","x":23.2,"y":-2.1},{"s":"TL","x":23.3,"y":-2.0},{"s":"TL","x":23.45,"y":-2.0},{"s":"TL","x":23.5,"y":-1.9},{"s":"TL","x":23.8,"y":-1.9},{"s":"TL","x":23.85,"y":-1.8},{"s":"TL","x":23.95,"y":-1.8},{"s":"TL","x":24.0,"y":-1.7},{"s":"TL","x":24.1,"y":-1.7},{"s":"TL","x":24.2,"y":-1.6},{"s":"TL","x":24.6,"y":-1.6},{"s":"TL","x":24.7,"y":-1.5},{"s":"TL","x":25.5,"y":-1.5},{"s":"TL","x":25.6,"y":-1.6},{"s":"TL","x":26.65,"y":-1.6},{"s":"TL","x":26.7,"y":-1.5},{"s":"TL","x":26.9,"y":-1.5},{"s":"TL","x":27.0,"y":-1.6},{"s":"TL","x":27.1,"y":-1.5},{"s":"TL","x":27.2,"y":-1.6},{"s":"TL","x":27.3,"y":-1.5},{"s":"TL","x":27.45,"y":-1.5},{"s":"TL","x":27.5,"y":-1.6},{"s":"TL","x":27.75,"y":-1.6},{"s":"TL","x":27.85,"y":-1.5},{"s":"TL","x":29.0,"y":-1.5},{"s":"TL","x":29.05,"y":-1.6},{"s":"TL","x":29.1,"y":-1.5},{"s":"TL","x":29.5,"y":-1.5},{"s":"TL","x":29.6,"y":-1.4},{"s":"TL","x":30.0,"y":-1.4},{"s":"TL","x":30.05,"y":-1.5},{"s":"TL","x":30.12,"y":-1.4},{"s":"TL","x":30.2,"y":-1.5},{"s":"TL","x":30.5,"y":-1.5},{"s":"TL","x":30.6,"y":-1.6},{"s":"TL","x":30.7,"y":-1.6},{"s":"TL","x":30.8,"y":-1.7},{"s":"TL","x":31.3,"y":-1.7},{"s":"TL","x":31.4,"y":-1.6},{"s":"TL","x":31.5,"y":-1.6},{"s":"TL","x":31.55,"y":-1.7},{"s":"TL","x":31.6,"y":-1.6},{"s":"TL","x":31.9,"y":-1.6},{"s":"TL","x":32.0,"y":-1.5},{"s":"TL","x":32.1,"y":-1.5},{"s":"TL","x":32.15,"y":-1.6},{"s":"TL","x":32.25,"y":-1.5},{"s":"TL","x":32.7,"y":-1.5},{"s":"TL","x":32.8,"y":-1.4},{"s":"TL","x":33.0,"y":-1.4}
],
"forecast": [{"x":27,"y":-2.30},{"x":28,"y":-2.36},{"x":29,"y":-3.26},{"x":30,"y":-3.90},{"x":31,"y":-4.53},{"x":32,"y":-4.92}],
"conf": [{"x":27,"x2":33,"y":-3.02,"y2":-5.47}],
"sunrise": [{"x":7.53},{"x":31.52}],
"now": [{"x":27}],
"basemin": [{"y":-4.92}],
"methodmin": [{"y":-4.44}]
},
"layer": [
{"data": {"name": "conf"}, "mark": {"type": "rect", "fill": "#800080", "fillOpacity": 0.2, "strokeWidth": 0},
 "encoding": {
  "x": {"field": "x", "type": "quantitative", "scale": {"domain": [1.5, 34.5], "nice": false, "zero": false}, "title": "UTC time [hours]", "axis": {"values": [5,10,15,20,25,30], "format": "d", "titlePadding": 4}},
  "x2": {"field": "x2"},
  "y": {"field": "y", "type": "quantitative", "scale": {"domain": [-6.005, 0.705], "nice": false, "zero": false}, "title": "Temperature [°C]", "axis": {"values": [-6,-5,-4,-3,-2,-1,0], "format": "d", "titlePadding": 8}},
  "y2": {"field": "y2"}
 }},
{"data": {"name": "series"}, "mark": {"type": "line", "strokeWidth": 2.1, "clip": true},
 "encoding": {
  "x": {"field": "x", "type": "quantitative", "scale": {"domain": [1.5, 34.5], "nice": false, "zero": false}, "title": "UTC time [hours]"},
  "y": {"field": "y", "type": "quantitative", "scale": {"domain": [-6.005, 0.705], "nice": false, "zero": false}, "title": "Temperature [°C]"},
  "color": {"field": "s", "type": "nominal",
   "scale": {"domain": ["TW_1","TW_2","TW_3","TW_4","TW_5","TW_6","TL","sunrise","Base min","Method min","Sander forecast","95% confidence"],
             "range": ["#000000","#000000","#000000","#000000","#000000","#000000","#1f77b4","#ffff00","#ff0000","#800080","#ff0000","#e5cce5"]},
   "legend": {"title": null, "orient": "none", "legendX": 6.7, "legendY": 7.3, "padding": 3.5, "rowPadding": 6,
     "symbolSize": 357, "labelFontSize": 13.9, "labelFont": "DejaVu Sans", "labelColor": "black", "labelOffset": 21, "symbolOffset": 7.3, "labelLimit": 300,
     "strokeColor": "#cccccc", "fillColor": "rgba(255,255,255,0.8)", "cornerRadius": 3,
     "encode": {"symbols": {"update": {
       "shape": {"signal": "datum.value === 'Sander forecast' ? 'M-0.44,-0.44L0.44,0.44M-0.44,0.44L0.44,-0.44' : datum.value === '95% confidence' ? 'M-1.5,-0.5H1.5V0.5H-1.5Z' : 'M-1.5,0H1.5'"},
       "fill": {"signal": "datum.value === '95% confidence' ? '#e5cce5' : 'transparent'"},
       "stroke": {"signal": "scale('color', datum.value)"},
       "strokeWidth": {"signal": "datum.value === 'Sander forecast' ? 1.4 : datum.value === '95% confidence' ? 0 : 2.1"},
       "opacity": {"value": 1}
     }}}}
  }
 }},
{"data": {"name": "now"}, "mark": {"type": "rule", "color": "#808080", "strokeWidth": 2.1},
 "encoding": {"x": {"field": "x", "type": "quantitative", "scale": {"domain": [1.5, 34.5], "nice": false, "zero": false}, "title": "UTC time [hours]"}}},
{"data": {"name": "sunrise"}, "mark": {"type": "rule", "color": "#ffff00", "strokeWidth": 2.1},
 "encoding": {"x": {"field": "x", "type": "quantitative", "scale": {"domain": [1.5, 34.5], "nice": false, "zero": false}, "title": "UTC time [hours]"}}},
{"data": {"name": "basemin"}, "mark": {"type": "rule", "color": "#ff0000", "strokeWidth": 2.1},
 "encoding": {"y": {"field": "y", "type": "quantitative", "scale": {"domain": [-6.005, 0.705], "nice": false, "zero": false}, "title": "Temperature [°C]"}}},
{"data": {"name": "methodmin"}, "mark": {"type": "rule", "color": "#800080", "strokeWidth": 2.1},
 "encoding": {"y": {"field": "y", "type": "quantitative", "scale": {"domain": [-6.005, 0.705], "nice": false, "zero": false}, "title": "Temperature [°C]"}}},
{"data": {"name": "forecast"}, "mark": {"type": "point", "shape": "M-1,-1L1,1M-1,1L1,-1", "filled": false, "color": "#ff0000", "size": 70, "strokeWidth": 1.4, "opacity": 1},
 "encoding": {
  "x": {"field": "x", "type": "quantitative", "scale": {"domain": [1.5, 34.5], "nice": false, "zero": false}, "title": "UTC time [hours]"},
  "y": {"field": "y", "type": "quantitative", "scale": {"domain": [-6.005, 0.705], "nice": false, "zero": false}, "title": "Temperature [°C]"}
 }}
]
}
